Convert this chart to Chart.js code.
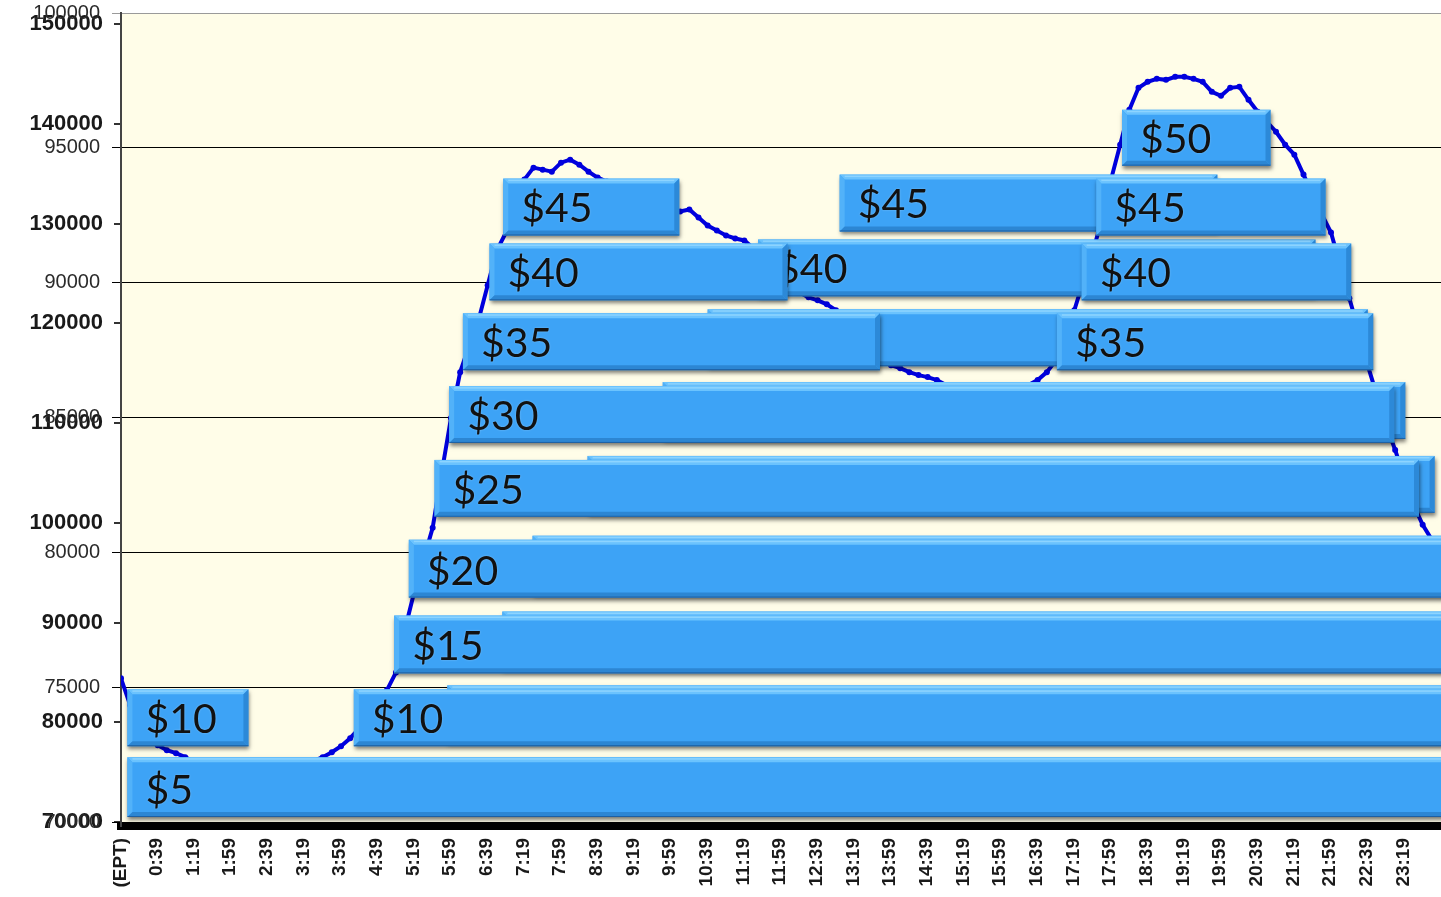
<!DOCTYPE html>
<html><head><meta charset="utf-8">
<script src="https://cdn.jsdelivr.net/npm/chart.js@4.4.1/dist/chart.umd.min.js"></script>
<style>html,body{margin:0;padding:0;background:#fff;overflow:hidden}</style>
</head><body>
<canvas id="c" width="1441" height="897"></canvas>
<script>
// ---- load curve (EPT, every 10 minutes) ----
const loadTime = ["0:00","0:10","0:20","0:30","0:40","0:50","1:00","1:10","1:20","1:30","1:40","1:50",
"2:00","2:10","2:20","2:30","2:40","2:50","3:00","3:10","3:20","3:30","3:40","3:50",
"4:00","4:10","4:20","4:30","4:40","4:50","5:00","5:10","5:20","5:30","5:40","5:50",
"6:00","6:10","6:20","6:30","6:40","6:50","7:00","7:10","7:20","7:30","7:40","7:50",
"8:00","8:10","8:20","8:30","8:40","8:50","9:00","9:10","9:20","9:30","9:40","9:50",
"10:00","10:10","10:20","10:30","10:40","10:50","11:00","11:10","11:20","11:30","11:40","11:50",
"12:00","12:10","12:20","12:30","12:40","12:50","13:00","13:10","13:20","13:30","13:40","13:50",
"14:00","14:10","14:20","14:30","14:40","14:50","15:00","15:10","15:20","15:30","15:40","15:50",
"16:00","16:10","16:20","16:30","16:40","16:50","17:00","17:10","17:20","17:30","17:40","17:50",
"18:00","18:10","18:20","18:30","18:40","18:50","19:00","19:10","19:20","19:30","19:40","19:50",
"20:00","20:10","20:20","20:30","20:40","20:50","21:00","21:10","21:20","21:30","21:40","21:50",
"22:00","22:10","22:20","22:30","22:40","22:50","23:00","23:10","23:20","23:30","23:40","23:50","24:00"];
const loadMW = [84400,81700,80000,78700,77700,77200,76900,76500,76000,75600,75300,75100,
74900,74800,74700,74700,74800,74900,75100,75400,75700,76100,76500,77000,
77600,78400,79400,80600,81900,83200,85000,89400,93100,96300,99500,105100,
110500,115100,117800,120300,123800,127300,129100,131900,134400,135600,135400,135200,
136100,136400,135900,135200,134600,134200,133800,133400,132900,132500,132100,131800,
131400,131200,131400,130600,129800,129300,128800,128500,128300,127500,126500,125500,
124500,123700,123100,122600,122300,121900,121300,120300,119100,118000,117100,116300,
115800,115500,115100,114800,114600,114300,113800,113300,113000,112800,112700,112700,
112800,113000,113300,113800,114300,115100,116300,118300,121300,124300,127100,130400,
134400,137900,141400,143600,144200,144500,144400,144700,144700,144500,144200,143200,
142800,143600,143700,142400,141200,140200,139200,137900,136900,134900,132900,130900,
129100,125800,122500,119300,115800,112800,109800,107300,104500,101800,99800,98300,97500];

// ---- axis tick labels ----
const tickLabels = ["(EPT)","0:39","1:19","1:59","2:39","3:19","3:59","4:39","5:19","5:59","6:39","7:19",
"7:59","8:39","9:19","9:59","10:39","11:19","11:59","12:39","13:19","13:59","14:39","15:19","15:59",
"16:39","17:19","17:59","18:39","19:19","19:59","20:39","21:19","21:59","22:39","23:19"];
const leftTicks = [70000,80000,90000,100000,110000,120000,130000,140000,150000];
const rightTicks = [70000,75000,80000,85000,90000,95000,100000];

// ---- price bands: load range for each price level ----
const levelPrice = ["$5","$10","$15","$20","$25","$30","$35","$40","$45","$50"];
const levelLow  = [70500,77600,84900,92500,100600,108000,115300,122300,128800,135800];
const levelHigh = [76500,83300,90700,98300,106300,113700,121000,128000,134500,141400];

// front layer of price periods (start / end in minutes after midnight)
const frontPrice = ["$5","$10","$10","$15","$20","$25","$30","$35","$35","$40","$40","$45","$45","$50"];
const frontStart = [7,7,254,298,314,342,358,373,1021,402,1048,417,1064,1092];
const frontEnd   = [1460,139,1460,1460,1460,1416,1389,828,1366,727,1342,609,1314,1254];
// back layer of price periods
const backPrice = ["$10","$15","$20","$25","$30","$35","$40","$45"];
const backStart = [356,416,449,509,591,640,695,784];
const backEnd   = [1460,1460,1460,1433,1401,1360,1303,1196];

function toMin(s){ if(s.indexOf(':')<0) return 0; const p=s.split(':'); return (+p[0])*60+(+p[1]); }

function poly(ctx,pts,color){ ctx.beginPath(); ctx.moveTo(pts[0][0],pts[0][1]); for(let i=1;i<pts.length;i++) ctx.lineTo(pts[i][0],pts[i][1]); ctx.closePath(); ctx.fillStyle=color; ctx.fill(); }

function bevelBox(ctx,l,t,r,b){
  const w=r-l,h=b-t,bv=5;
  ctx.save();
  ctx.shadowColor='rgba(0,0,0,0.5)'; ctx.shadowBlur=4; ctx.shadowOffsetX=1; ctx.shadowOffsetY=3;
  ctx.fillStyle='#3DA3F6'; ctx.fillRect(l,t,w,h);
  ctx.restore();
  poly(ctx,[[l,t],[r,t],[r-bv,t+bv],[l+bv,t+bv]],'#6BC3FE');
  poly(ctx,[[l,t],[l+bv,t+bv],[l+bv,b-bv],[l,b]],'#52B2F9');
  poly(ctx,[[r,t],[r,b],[r-bv,b-bv],[r-bv,t+bv]],'#2C89D8');
  poly(ctx,[[l,b],[r,b],[r-bv,b-bv],[l+bv,b-bv]],'#2C86D3');
  ctx.fillStyle='rgba(170,225,255,0.55)'; ctx.fillRect(l+bv,t+1,w-2*bv,1.5);
  ctx.fillStyle='rgba(20,70,130,0.6)'; ctx.fillRect(l,b-1,w,1);
}

const bgPlugin = {
  id:'bg',
  afterLayout(chart){
    // second (5000-step) axis shares the label gutter of the first one
    const y2 = chart.scales.y2; y2.left = 0;
  },
  beforeDraw(chart){
    const {ctx, chartArea:a} = chart;
    ctx.save(); ctx.fillStyle='#fff'; ctx.fillRect(0,0,chart.width,chart.height);
    ctx.fillStyle='#FFFDE8'; ctx.fillRect(a.left,a.top,a.right-a.left,a.bottom-a.top); ctx.restore();
  }
};

const boxPlugin = {
  id:'priceBoxes',
  afterDatasetsDraw(chart){
    const {ctx, scales:{x, y1}} = chart;
    const draw = (price, s, e, shift) => {
      const i = levelPrice.indexOf(price);
      const l = x.getPixelForValue(s), r = x.getPixelForValue(e);
      const t = y1.getPixelForValue(levelHigh[i]+shift), b = y1.getPixelForValue(levelLow[i]+shift);
      bevelBox(ctx,l,t,r,b);
      ctx.save();
      ctx.font='41px Lato'; ctx.fillStyle='#111'; ctx.textBaseline='alphabetic'; ctx.textAlign='left';
      ctx.shadowColor='rgba(255,255,255,0.35)'; ctx.shadowBlur=2;
      ctx.fillText(price, l+18, b-13);
      ctx.restore();
    };
    const BACK_SHIFT = 400;
    backPrice.forEach((p,k)=>draw(p, backStart[k], backEnd[k], BACK_SHIFT));
    frontPrice.forEach((p,k)=>draw(p, frontStart[k], frontEnd[k], 0));
  }
};

const noPad = s => { s.paddingTop = 0; s.paddingBottom = 0; s.paddingLeft = 0; s.paddingRight = 0; };

new Chart(document.getElementById('c'), {
  type:'line',
  data:{ datasets:[{
    data: loadTime.map((s,i)=>({x:toMin(s), y:loadMW[i]})),
    xAxisID:'x', yAxisID:'y1',
    borderColor:'#0000DD', borderWidth:4, tension:0,
    pointRadius:3, pointBackgroundColor:'#0000DD', pointBorderWidth:0
  }]},
  options:{
    responsive:false, animation:false, devicePixelRatio:1, events:[],
    layout:{autoPadding:false, padding:{top:13,right:0,left:0,bottom:0}},
    plugins:{legend:{display:false}, tooltip:{enabled:false}},
    scales:{
      x:{ type:'linear', position:'bottom', min:0, max:1440,
        afterBuildTicks: s => { s.ticks = tickLabels.map(l=>({value:toMin(l)})); },
        afterFit: s => { s.height = 71; noPad(s); },
        ticks:{ autoSkip:false, minRotation:90, maxRotation:90, padding:12, color:'#1a1a1a',
          font:{family:'Liberation Sans', size:19, weight:'bold'},
          callback:(v,i)=>tickLabels[i] },
        grid:{ display:false, drawTicks:false },
        border:{ display:true, color:'#000', width:8 }
      },
      y1:{ type:'linear', position:'left', weight:1, min:69599, max:151103,
        afterBuildTicks: s => { s.ticks = leftTicks.map(v=>({value:v})); },
        afterFit: s => { s.width = 121; noPad(s); },
        ticks:{ padding:11, color:'#1a1a1a', font:{family:'Liberation Sans', size:22, weight:'bold'}, callback:v=>String(v) },
        grid:{ drawOnChartArea:false, tickLength:7, color:'#333', lineWidth:2 },
        border:{ color:'#444', width:2 }
      },
      y2:{ type:'linear', position:'left', weight:0, min:69852, max:100000,
        afterBuildTicks: s => { s.ticks = rightTicks.map(v=>({value:v})); },
        afterFit: s => { s.width = 0; noPad(s); },
        ticks:{ padding:12, color:'#2a2a2a', font:{family:'Liberation Sans', size:20}, callback:v=>String(v) },
        grid:{ color: c => (c.tick && c.tick.value===100000) ? '#9a9a9a' : '#000', lineWidth:1, tickLength:9 },
        border:{ display:false }
      }
    }
  },
  plugins:[bgPlugin, boxPlugin]
});
</script>
</body></html>
